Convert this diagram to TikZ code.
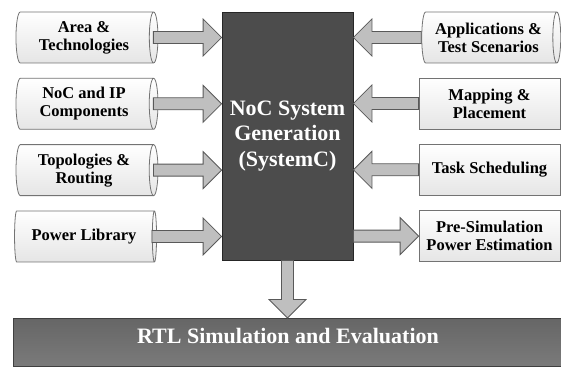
\documentclass[tikz,border=0pt]{standalone}
\usepackage{fontspec}
\setmainfont{Liberation Serif}
\usetikzlibrary{arrows.meta,positioning,shapes.geometric,calc}

\begin{document}
\begin{tikzpicture}[
  x=1pt, y=-1pt,
  source/.style={draw=black!55, line width=0.8pt, cylinder, shape aspect=0.25, top color=white, bottom color=black!10, minimum height=142pt, minimum width=51pt, inner sep=1pt, align=center, font=\fontsize{16.5}{18}\selectfont\bfseries},
  task/.style={draw=black!55, line width=0.8pt, rectangle, top color=white, bottom color=black!10, minimum width=141pt, minimum height=51pt, inner sep=1pt, align=center, font=\fontsize{16.5}{18}\selectfont\bfseries},
  core/.style={draw=black!85, line width=0.8pt, fill=black!70, text=white, minimum width=131pt, minimum height=248pt, align=center, font=\fontsize{22}{25.5}\selectfont\bfseries},
  result/.style={draw=black!75, line width=0.8pt, top color=black!60, bottom color=black!52, text=white, minimum width=550pt, inner sep=0pt, text height=25pt, text depth=23pt, font=\fontsize{22}{25.5}\selectfont\bfseries},
  blockarrow/.style={draw=black!65, line width=0.8pt, fill=black!25, line join=miter, to path={
    let \p0=($(\tikztotarget)!18.5pt!(\tikztostart)$) in
    ($(\tikztostart)!6pt!90:(\tikztotarget)$)
    -- ($(\p0)!6pt!-90:(\tikztostart)$)
    -- ($(\p0)!18.5pt!-90:(\tikztostart)$)
    -- (\tikztotarget)
    -- ($(\p0)!18.5pt!90:(\tikztostart)$)
    -- ($(\p0)!6pt!90:(\tikztostart)$)
    -- ($(\tikztostart)!6pt!-90:(\tikztotarget)$) -- cycle}},
  node distance=14.5pt
]
\useasboundingbox (0,0) rectangle (561,366);

% left inputs
\node[source] (area) at (84,37.5) {Area \&\\Technologies};
\node[source, below=of area] (ip) {NoC and IP\\Components};
\node[source, below=of ip] (topo) {Topologies \&\\Routing};
\node[source, below=of topo] (power) {Power Library};

% right inputs / outputs
\node[source, minimum height=139pt] (apps) at (488.5,37.5) {Applications \&\\Test Scenarios};
\node[task] (map) at (489.5,103.5) {Mapping \&\\Placement};
\node[task, below=of map] (sched) {Task Scheduling};
\node[task, below=of sched] (presim) {Pre-Simulation\\Power Estimation};

% generator and simulation
\node[core] (gen) at (287.5,136) {NoC System\\Generation\\(SystemC)};
\node[result, anchor=north] (rtl) at (288,318) {RTL Simulation and Evaluation};

% arrows
\draw[blockarrow] ($(area.east)+(-5,0)$) to (gen.west |- area.east);
\draw[blockarrow] ($(ip.east)+(-5,0)$) to (gen.west |- ip.east);
\draw[blockarrow] ($(topo.east)+(-5,0)$) to (gen.west |- topo.east);
\draw[blockarrow] ($(power.east)+(-5,0)$) to (gen.west |- power.east);
\draw[blockarrow] (apps.west) to (gen.east |- apps.west);
\draw[blockarrow] (map.west) to (gen.east |- map.west);
\draw[blockarrow] (sched.west) to (gen.east |- sched.west);
\draw[blockarrow] (gen.east |- presim.west) to (presim.west);
\draw[blockarrow] (gen.south) to (rtl.north -| gen.south);
\end{tikzpicture}
\end{document}
